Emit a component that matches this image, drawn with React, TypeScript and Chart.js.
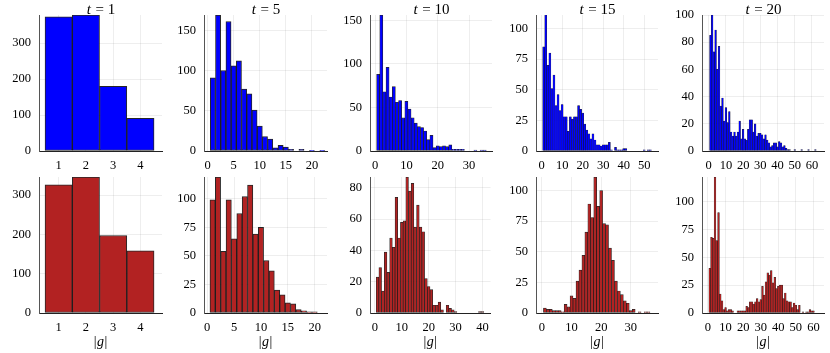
import React, { useEffect, useRef } from 'react';
import { Chart, registerables } from 'chart.js';

Chart.register(...registerables);

// ---------- data (counts per integer bin, first bin centred on 1) ----------
const t1Top = [373, 378, 180, 91];
const t5Top = [91, 169, 100, 161, 106, 112, 77, 71, 51, 31, 18, 15, 4, 7, 5, 2, 0, 2, 0, 1, 0, 1];
const t10Top = [88, 156, 68, 96, 62, 74, 56, 58, 38, 57, 48, 38, 32, 28, 27, 23, 13, 18, 4, 6, 5, 6, 5, 7, 2, 2, 2, 2, 0, 0, 0, 1, 0, 1, 1];
const t15Top = [85, 111, 70, 80, 51, 62, 37, 46, 33, 38, 28, 28, 16, 28, 26, 28, 28, 37, 34, 31, 22, 17, 14, 10, 14, 9, 5, 5, 4, 5, 5, 5, 7, 1, 0, 3, 1, 1, 1, 2, 2, 0, 0, 0, 0, 0, 0, 0, 0, 1, 0, 1, 1];
const t20Top = [85, 100, 73, 89, 60, 77, 33, 39, 22, 32, 21, 29, 14, 11, 14, 11, 14, 22, 9, 16, 9, 8, 16, 23, 23, 14, 20, 11, 13, 13, 12, 9, 12, 8, 6, 3, 4, 6, 6, 3, 7, 6, 3, 4, 2, 1, 1, 0, 0, 1, 0, 0, 0, 1, 0, 0, 0, 1, 0, 0, 0, 1, 0, 0];

const t1Bot = [326, 346, 197, 158];
const t5Bot = [99, 119, 54, 99, 65, 87, 102, 112, 69, 75, 46, 37, 20, 16, 9, 8, 3, 2, 1, 1];
const t10Bot = [23, 29, 14, 39, 26, 48, 42, 74, 48, 58, 59, 87, 78, 83, 55, 69, 55, 52, 22, 17, 15, 5, 5, 7, 2, 0, 5, 3, 2, 1, 0, 0, 0, 0, 0, 0, 0, 0, 1, 1];
const t15Bot = [4, 3, 3, 2, 2, 2, 1, 7, 5, 14, 12, 26, 35, 47, 66, 89, 78, 111, 87, 100, 73, 72, 53, 43, 26, 18, 15, 10, 8, 2, 3, 0, 1, 0, 1, 1];
const t20Bot = [40, 68, 67, 122, 65, 90, 17, 11, 3, 5, 2, 3, 3, 2, 0, 0, 2, 2, 2, 2, 2, 6, 5, 10, 10, 8, 10, 13, 10, 12, 24, 16, 28, 36, 34, 38, 27, 32, 22, 24, 25, 25, 13, 18, 11, 10, 10, 5, 9, 7, 3, 7, 0, 1, 0, 1, 1, 3, 2, 2];

// ---------- tick labels ----------
const timeLabels = ['1', '5', '10', '15', '20'];
const xTicksT1 = [1, 2, 3, 4];
const xTicksT5 = [0, 5, 10, 15, 20];
const xTicksT10Top = [0, 10, 20, 30];
const xTicksT10Bot = [0, 10, 20, 30, 40];
const xTicksT15Top = [0, 10, 20, 30, 40, 50];
const xTicksT15Bot = [0, 10, 20, 30];
const xTicksT20 = [0, 10, 20, 30, 40, 50, 60];

const yTicksT1 = [0, 100, 200, 300];
const yTicks50 = [0, 50, 100, 150];
const yTicks25 = [0, 25, 50, 75, 100];
const yTicks20 = [0, 20, 40, 60, 80, 100];
const yTicks20b = [0, 20, 40, 60, 80];

// ---------- layout ----------
const LEFTS = [39, 204, 370, 536, 702];
const RIGHTS = [162, 327, 492, 658, 824];
const ROW_TOP = [15, 177];
const ROW_BOTTOM = [151, 313];
const YW = 40;
const PAD_TOP = 18;
const PAD_RIGHT = 4;
const XH = [22, 40];
const COLORS = ['#0000FF', '#B22222'];
const FONT = '"Liberation Serif", "DejaVu Serif", serif';

type PanelCfg = {
  row: number;
  col: number;
  counts: number[];
  xTicks: number[];
  yTicks: number[];
  xMin: number;
  xMax: number;
  yMax: number;
};

const PANELS: PanelCfg[] = [
  { row: 0, col: 0, counts: t1Top, xTicks: xTicksT1, yTicks: yTicksT1, xMin: 0.28, xMax: 4.79, yMax: 378 },
  { row: 0, col: 1, counts: t5Top, xTicks: xTicksT5, yTicks: yTicks50, xMin: -0.7, xMax: 22.9, yMax: 169 },
  { row: 0, col: 2, counts: t10Top, xTicks: xTicksT10Top, yTicks: yTicks50, xMin: -1.6, xMax: 37.3, yMax: 156 },
  { row: 0, col: 3, counts: t15Top, xTicks: xTicksT15Top, yTicks: yTicks25, xMin: -2.75, xMax: 56.7, yMax: 111 },
  { row: 0, col: 4, counts: t20Top, xTicks: xTicksT20, yTicks: yTicks20, xMin: -3.9, xMax: 67, yMax: 100 },
  { row: 1, col: 0, counts: t1Bot, xTicks: xTicksT1, yTicks: yTicksT1, xMin: 0.28, xMax: 4.79, yMax: 346 },
  { row: 1, col: 1, counts: t5Bot, xTicks: xTicksT5, yTicks: yTicks25, xMin: -0.6, xMax: 22.3, yMax: 119 },
  { row: 1, col: 2, counts: t10Bot, xTicks: xTicksT10Bot, yTicks: yTicks20b, xMin: -1.8, xMax: 43, yMax: 87 },
  { row: 1, col: 3, counts: t15Bot, xTicks: xTicksT15Bot, yTicks: yTicks25, xMin: -2, xMax: 39.2, yMax: 111 },
  { row: 1, col: 4, counts: t20Bot, xTicks: xTicksT20, yTicks: yTicks25, xMin: -3.4, xMax: 66, yMax: 122 },
];

function geom(p: PanelCfg) {
  const L = LEFTS[p.col];
  const R = RIGHTS[p.col];
  const T = ROW_TOP[p.row];
  const B = ROW_BOTTOM[p.row];
  return {
    x: L - YW,
    y: T - PAD_TOP,
    w: YW + (R - L) + PAD_RIGHT,
    h: PAD_TOP + (B - T) + XH[p.row],
  };
}

function barPixelWidth(p: PanelCfg) {
  return (RIGHTS[p.col] - LEFTS[p.col]) / (p.xMax - p.xMin);
}

const labelPlugin = {
  id: 'panelLabels',
  afterDraw(chart: any, _args: any, opts: any) {
    const { ctx, chartArea } = chart;
    const cx = (chartArea.left + chartArea.right) / 2;
    ctx.save();
    ctx.fillStyle = '#000';
    ctx.textBaseline = 'alphabetic';
    ctx.textAlign = 'left';
    if (opts.title) {
      const f1 = `italic 15px ${FONT}`;
      const f2 = `15px ${FONT}`;
      const a = 't';
      const b = ' = ' + opts.title;
      ctx.font = f1;
      const w1 = ctx.measureText(a).width;
      ctx.font = f2;
      const w2 = ctx.measureText(b).width;
      const x0 = cx - (w1 + w2) / 2;
      const y = chartArea.top - 1;
      ctx.font = f1;
      ctx.fillText(a, x0, y);
      ctx.font = f2;
      ctx.fillText(b, x0 + w1 + 1, y);
    }
    if (opts.xlabel) {
      const fr = `14px ${FONT}`;
      const fi = `italic 14px ${FONT}`;
      ctx.font = fr;
      const wb = ctx.measureText('|').width;
      ctx.font = fi;
      const wg = ctx.measureText('g').width;
      const total = wb * 2 + wg + 1;
      const x0 = cx - total / 2;
      const y = chartArea.bottom + 33;
      ctx.font = fr;
      ctx.fillText('|', x0, y);
      ctx.font = fi;
      ctx.fillText('g', x0 + wb + 0.5, y);
      ctx.font = fr;
      ctx.fillText('|', x0 + wb + wg + 1, y);
    }
    ctx.restore();
  },
};

function buildConfig(p: PanelCfg): any {
  const color = COLORS[p.row];
  const bw = barPixelWidth(p);
  const border = bw < 2.5 ? 0.45 : bw < 4 ? 0.7 : 1;
  return {
    type: 'bar',
    data: {
      datasets: [
        {
          data: p.counts.map((c, i) => ({ x: i + 1, y: c })),
          backgroundColor: color,
          borderColor: 'rgba(0,0,0,0.85)',
          borderWidth: border,
          borderSkipped: false,
          inflateAmount: 0.3,
          barPercentage: 1,
          categoryPercentage: 1,
          grouped: false,
        },
      ],
    },
    options: {
      animation: false,
      responsive: false,
      devicePixelRatio: 1,
      events: [],
      layout: { padding: { top: PAD_TOP, right: PAD_RIGHT, left: 0, bottom: 0 } },
      plugins: {
        legend: { display: false },
        tooltip: { enabled: false },
        panelLabels: {
          title: p.row === 0 ? timeLabels[p.col] : null,
          xlabel: p.row === 1,
        },
      },
      scales: {
        x: {
          type: 'linear',
          min: p.xMin,
          max: p.xMax,
          offset: false,
          afterFit: (s: any) => {
            s.height = XH[p.row];
          },
          afterBuildTicks: (s: any) => {
            s.ticks = p.xTicks.map((v) => ({ value: v }));
          },
          grid: {
            offset: false,
            color: 'rgba(0,0,0,0.065)',
            lineWidth: 1,
            drawTicks: false,
          },
          border: { display: true, color: '#222', width: 1 },
          ticks: {
            autoSkip: false,
            maxRotation: 0,
            padding: 7,
            color: '#000',
            font: { family: FONT, size: 12.5 },
            callback: (v: any) => String(v),
          },
        },
        y: {
          type: 'linear',
          min: 0,
          max: p.yMax,
          afterFit: (s: any) => {
            s.width = YW;
          },
          afterBuildTicks: (s: any) => {
            s.ticks = p.yTicks.map((v) => ({ value: v }));
          },
          grid: {
            color: 'rgba(0,0,0,0.065)',
            lineWidth: 1,
            drawTicks: false,
          },
          border: { display: true, color: '#555', width: 1 },
          ticks: {
            autoSkip: false,
            padding: 8,
            color: '#000',
            font: { family: FONT, size: 12.5 },
            callback: (v: any) => String(v),
          },
        },
      },
    },
    plugins: [labelPlugin],
  };
}

export default function App() {
  const refs = useRef<(HTMLCanvasElement | null)[]>([]);
  useEffect(() => {
    const charts = PANELS.map((p, i) => new Chart(refs.current[i] as HTMLCanvasElement, buildConfig(p)));
    return () => charts.forEach((c) => c.destroy());
  }, []);
  return (
    <div style={{ position: 'absolute', left: 0, top: 0, width: 830, height: 353, background: '#fff' }}>
      {PANELS.map((p, i) => {
        const g = geom(p);
        return (
          <canvas
            key={i}
            ref={(el) => {
              refs.current[i] = el;
            }}
            width={g.w}
            height={g.h}
            style={{ position: 'absolute', left: g.x, top: g.y, width: g.w, height: g.h }}
          />
        );
      })}
    </div>
  );
}
